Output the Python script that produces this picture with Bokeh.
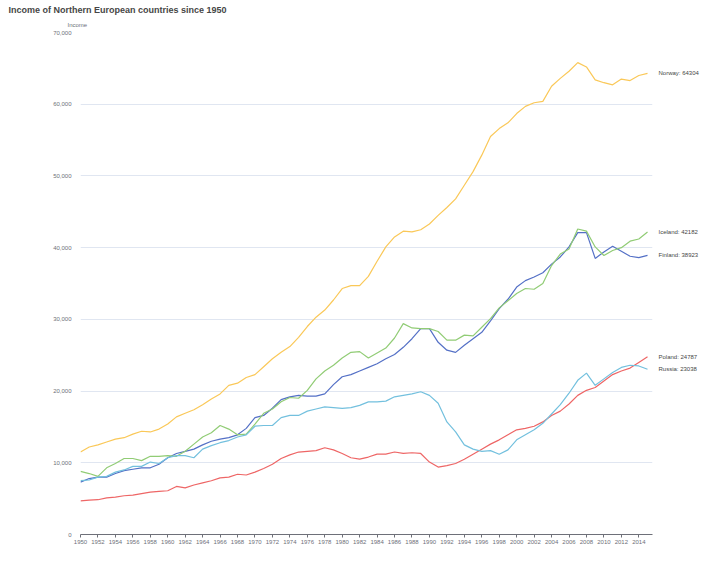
from bokeh.plotting import figure
from bokeh.models import Range1d, FixedTicker, NumeralTickFormatter, LinearAxis, Title
from bokeh.embed import file_html
from bokeh.resources import INLINE

years = list(range(1950, 2016))

finland = [7300, 7800, 8000, 8000, 8500, 8900, 9100, 9300, 9300, 9800,
           10700, 11300, 11600, 11900, 12500, 13000, 13300, 13500, 13900, 14800,
           16300, 16600, 17600, 18800, 19200, 19400, 19300, 19300, 19600, 20900,
           22000, 22300, 22800, 23300, 23800, 24500, 25100, 26100, 27300, 28700,
           28700, 26800, 25700, 25400, 26400, 27300, 28200, 29800, 31500, 32800,
           34500, 35400, 35900, 36500, 37700, 38700, 40100, 42100, 42100, 38500,
           39400, 40200, 39500, 38800, 38600, 38923]

iceland = [8800, 8500, 8100, 9300, 9900, 10600, 10600, 10300, 10900, 10900,
           11000, 10900, 11600, 12600, 13600, 14200, 15200, 14700, 13900, 14000,
           15400, 16900, 17500, 18500, 19100, 19000, 20100, 21700, 22800, 23600,
           24600, 25400, 25500, 24600, 25300, 26000, 27400, 29400, 28800, 28700,
           28700, 28300, 27100, 27100, 27800, 27700, 28900, 30100, 31600, 32600,
           33600, 34300, 34200, 35000, 37500, 39100, 39800, 42600, 42300, 40100,
           38900, 39600, 40000, 40900, 41200, 42182]

norway = [11500, 12200, 12500, 12900, 13300, 13500, 14000, 14400, 14300, 14700,
          15400, 16400, 16900, 17400, 18100, 18900, 19600, 20800, 21100, 21900,
          22300, 23400, 24500, 25400, 26200, 27500, 29000, 30300, 31300, 32700,
          34300, 34700, 34700, 36000, 38100, 40100, 41500, 42300, 42200, 42500,
          43300, 44500, 45600, 46800, 48700, 50600, 52900, 55500, 56600, 57400,
          58700, 59700, 60200, 60400, 62500, 63600, 64600, 65800, 65200, 63400,
          63000, 62700, 63500, 63300, 64000, 64304]

poland = [4700, 4800, 4850, 5100, 5200, 5400, 5500, 5700, 5900, 6000,
          6100, 6700, 6500, 6900, 7200, 7500, 7900, 8000, 8400, 8300,
          8700, 9200, 9800, 10600, 11100, 11500, 11600, 11700, 12100, 11800,
          11300, 10700, 10500, 10800, 11200, 11200, 11500, 11300, 11400, 11300,
          10100, 9400, 9600, 9900, 10500, 11200, 11900, 12600, 13200, 13900,
          14600, 14800, 15100, 15700, 16600, 17200, 18200, 19400, 20100, 20500,
          21400, 22300, 22800, 23200, 24000, 24787]

russia = [7500, 7600, 8000, 8100, 8700, 9000, 9500, 9500, 10100, 9900,
          10700, 11000, 11000, 10700, 11900, 12400, 12800, 13100, 13600, 13900,
          15100, 15200, 15200, 16300, 16600, 16600, 17200, 17500, 17800, 17700,
          17600, 17700, 18000, 18500, 18500, 18600, 19200, 19400, 19600, 19900,
          19400, 18300, 15700, 14300, 12500, 11900, 11600, 11700, 11200, 11800,
          13200, 13900, 14600, 15500, 16800, 18100, 19700, 21500, 22500, 20800,
          21700, 22600, 23300, 23600, 23500, 23038]

countries = ["Finland", "Iceland", "Norway", "Poland", "Russia"]
series = [finland, iceland, norway, poland, russia]
colors = ["#5470c6", "#91cc75", "#fac858", "#ee6666", "#73c0de"]

x_ticks = list(range(1950, 2015, 2))
y_ticks = list(range(0, 70001, 10000))

FONT = "Liberation Sans"
AXIS_GREY = "#6E7079"

p = figure(width=712, height=564, title=None, toolbar_location=None,
           output_backend="svg",
           x_range=Range1d(1950, 2015.57), y_range=Range1d(0, 70000),
           min_border_left=80, min_border_right=60,
           min_border_top=32, min_border_bottom=30)
p.outline_line_color = None

for vals, c in zip(series, colors):
    p.line(years, vals, line_color=c, line_width=1.2)

xaxis = p.below[0]
yaxis = p.left[0]

# end labels as a right-hand axis
ends = [s[-1] for s in series]
end_axis = LinearAxis(ticker=FixedTicker(ticks=ends),
                      major_label_overrides={v: "%s: %d" % (n, v) for n, v in zip(countries, ends)})
end_axis.axis_line_color = None
end_axis.major_tick_line_color = None
end_axis.minor_tick_line_color = None
end_axis.major_label_standoff = 0
end_axis.major_label_text_font = FONT
end_axis.major_label_text_font_size = "6px"
end_axis.major_label_text_color = "#464646"
p.add_layout(end_axis, "right")

# axis name, then main title (outermost)
p.add_layout(Title(text="Income", align="left", offset=-13, standoff=10,
                   text_font=FONT, text_font_size="6px", text_font_style="normal",
                   text_color=AXIS_GREY), "above")
p.add_layout(Title(text="Income of Northern European countries since 1950",
                   align="left", offset=-72, standoff=0,
                   text_font=FONT, text_font_size="9px", text_font_style="bold",
                   text_color="#464646"), "above")

p.xgrid.grid_line_color = None
p.ygrid.grid_line_color = "#E0E6F1"
p.ygrid.ticker = FixedTicker(ticks=y_ticks)

xaxis.ticker = FixedTicker(ticks=x_ticks)
xaxis.axis_line_color = AXIS_GREY
xaxis.major_tick_line_color = AXIS_GREY
xaxis.major_tick_in = 0
xaxis.major_tick_out = 3
xaxis.minor_tick_line_color = None
xaxis.major_label_standoff = 2

yaxis.ticker = FixedTicker(ticks=y_ticks)
yaxis.formatter = NumeralTickFormatter(format="0,0")
yaxis.axis_line_color = None
yaxis.major_tick_line_color = None
yaxis.minor_tick_line_color = None
yaxis.major_label_standoff = 3

for ax in (xaxis, yaxis):
    ax.major_label_text_font = FONT
    ax.major_label_text_font_size = "6px"
    ax.major_label_text_color = AXIS_GREY

open("out.html", "w").write(file_html(p, INLINE))
